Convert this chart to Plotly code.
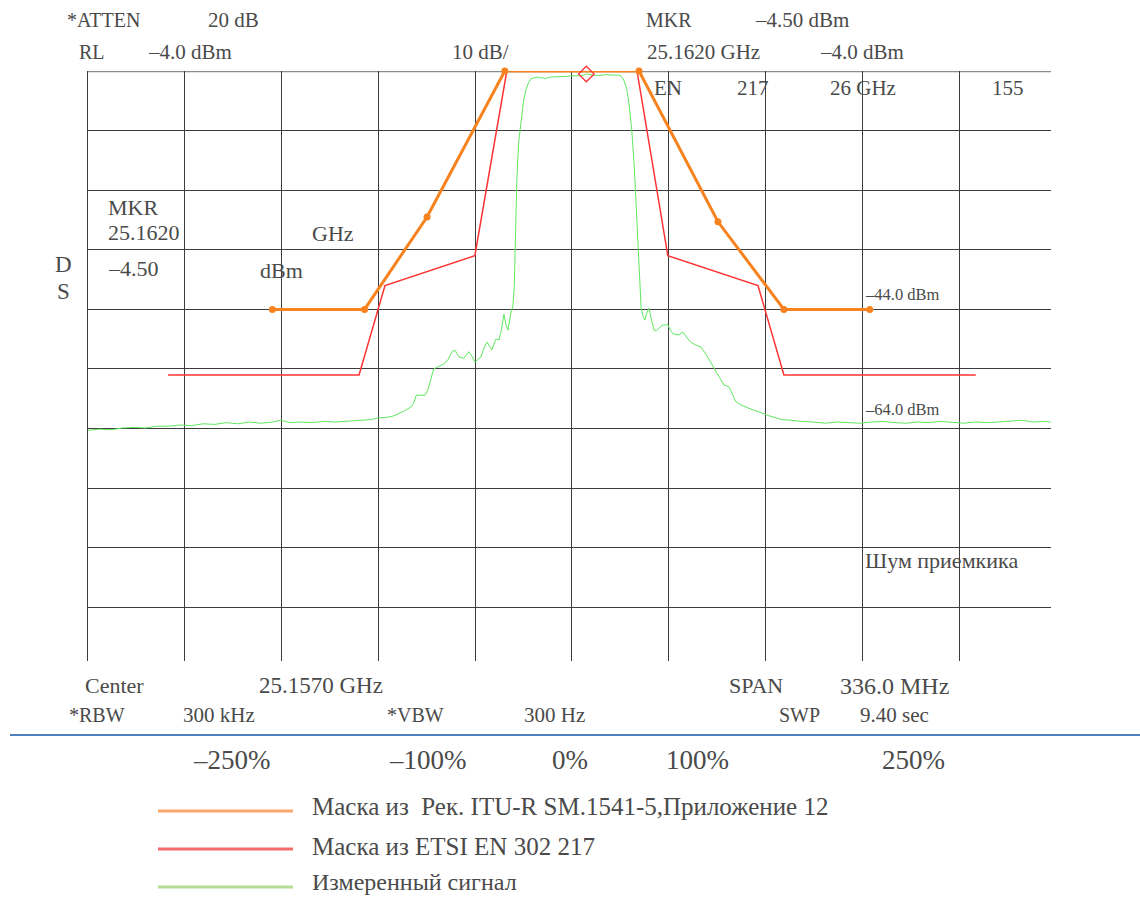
import plotly.graph_objects as go

# Spectrum analyser settings
CENTER_GHZ = 25.1570
SPAN_MHZ = 336.0
REF_LEVEL = -4.0          # dBm, top graticule line
DB_PER_DIV = 10.0
MKR_OFFSET_MHZ = 5.0      # 25.1620 GHz - centre
MKR_LEVEL = -4.50         # dBm

# ITU-R SM.1541-5 Annex 12 mask (offset from centre, MHz / dBm)
itu_offset = [-104.0, -72.0, -50.3, -23.3, 23.3, 50.7, 73.6, 103.4]
itu_level = [-44.0, -44.0, -28.5, -4.0, -4.0, -29.3, -44.0, -44.0]

# ETSI EN 302 217 mask
etsi_offset = [-140.2, -73.9, -64.9, -33.7, -22.6, 22.6, 33.3, 64.6, 73.6, 140.2]
etsi_level = [-55.0, -55.0, -40.0, -35.0, -4.0, -4.0, -35.0, -40.0, -55.0, -55.0]

# Measured trace
sig_offset = [
    -168, -164, -160, -156, -152, -148, -144, -140, -136, -132, -128, -124,
    -120, -116, -112, -108, -104, -101, -98, -94, -90, -86, -82, -78, -74,
    -70, -67, -64, -62, -60, -58, -56, -55, -54, -51, -50, -48, -46, -44.5,
    -43, -41.5, -40.5, -39.2, -37.5, -35.8, -34.5, -33.7, -32.7, -31.6,
    -30.5, -29.5, -28.5, -27.8, -26.8, -26.4, -25.3, -24.5, -23.6, -22.9,
    -22.2, -21.2, -20.5, -20.0, -19.6, -19.1, -18.5, -17.7, -16.8, -16.0,
    -15.0, -14.2, -13.0, -11.8, -11.0, -10.1, -9.2, -8.3, -7.0, -5.2, -3.5,
    -1.7, 0.0, 1.7, 3.5, 5.0, 7.0, 8.7, 10.4, 12.1, 14.2, 16.3, 17.2, 18.0,
    19.0, 19.8, 20.7, 21.5, 22.2, 22.9, 23.5, 24.0, 24.6, 25.3, 26.0, 26.7,
    27.5, 28.5, 29.3, 30.2, 31.0, 31.9, 33.3, 34.2, 35.1, 37.1, 38.5, 40.0,
    41.3, 43.0, 44.8, 46.5, 48.0, 49.3, 51.0, 52.8, 54.5, 55.8, 56.9, 58.5,
    60.4, 63.0, 65.6, 68.0, 70.8, 73.0, 76.0, 79.5, 84, 88, 92, 96, 100,
    104, 108, 112, 116, 120, 124, 128, 132, 136, 140, 144, 148, 152, 156,
    160, 164, 166.3,
]
sig_level = [
    -64.3, -64.1, -64.2, -63.9, -63.8, -63.9, -63.6, -63.6, -63.4, -63.5,
    -63.2, -63.3, -63.0, -63.2, -62.9, -63.1, -62.9, -62.6, -63.0, -62.9,
    -63.0, -62.8, -62.9, -62.8, -62.6, -62.5, -62.2, -62.1, -61.9, -61.5,
    -61.0, -60.4, -59.8, -58.4, -58.4, -57.5, -54.0, -53.5, -53.2, -52.4,
    -51.0, -50.9, -52.0, -52.2, -51.1, -52.0, -52.9, -52.4, -52.0, -50.5,
    -49.5, -50.2, -50.8, -49.5, -49.0, -49.1, -47.5, -44.8, -46.5, -47.5,
    -44.6, -43.5, -40.0, -32.0, -22.0, -16.0, -12.2, -9.0, -7.2, -5.9, -5.3,
    -5.1, -5.0, -5.2, -5.1, -5.3, -5.1, -5.0, -5.0, -4.9, -4.9, -4.8, -4.75,
    -4.8, -4.5, -4.7, -4.75, -4.7, -4.6, -4.7, -4.7, -4.9, -5.5, -7.0, -9.4,
    -13.5, -18.9, -25.5, -32.9, -39.0, -43.6, -45.0, -45.8, -44.6, -43.8,
    -45.5, -47.5, -47.6, -47.1, -46.8, -46.6, -46.6, -47.5, -48.1, -48.3,
    -47.8, -48.8, -49.5, -50.0, -50.3, -51.5, -52.8, -53.8, -55.2, -56.7,
    -57.0, -58.3, -59.5, -60.0, -60.4, -60.9, -61.3, -61.8, -62.2, -62.5,
    -62.6, -62.8, -62.9, -63.1, -62.9, -63.0, -63.1, -62.9, -62.8, -63.0,
    -63.1, -62.9, -63.0, -62.8, -63.0, -63.1, -62.9, -63.0, -62.9, -62.8,
    -62.6, -62.9, -62.8, -62.9,
]

# Offset labels under the screen
pct_labels = ["–250%", "–100%", "0%", "100%", "250%"]

ORANGE = "#f7821e"
RED = "#ff3333"
GREEN = "#5ee85e"
TEXT = "#4a4a4a"
FONT = "Liberation Serif"

# Graticule position on the page (pixels)
W, H = 1140, 897
L, R, T, B = 88, 1051, 71, 661
DIVS_SHOWN = 9.95          # graticule stops just short of the tenth division


def px(x):
    return (x - L) / (R - L)


def py(y):
    return (B - y) / (B - T)


fig = go.Figure()

fig.add_trace(go.Scatter(
    x=sig_offset, y=sig_level, mode="lines",
    line=dict(color=GREEN, width=1), hoverinfo="skip", showlegend=False,
))
fig.add_trace(go.Scatter(
    x=etsi_offset, y=etsi_level, mode="lines",
    line=dict(color=RED, width=1.5), hoverinfo="skip", showlegend=False,
    cliponaxis=False,
))
fig.add_trace(go.Scatter(
    x=itu_offset, y=itu_level, mode="lines+markers",
    line=dict(color=ORANGE, width=3), marker=dict(color=ORANGE, size=7),
    hoverinfo="skip", showlegend=False, cliponaxis=False,
))
fig.add_trace(go.Scatter(
    x=[MKR_OFFSET_MHZ], y=[MKR_LEVEL], mode="markers",
    marker=dict(symbol="diamond-open", color=RED, size=12, line=dict(width=1.3)),
    hoverinfo="skip", showlegend=False, cliponaxis=False,
))

div = SPAN_MHZ / 10
x_left = -SPAN_MHZ / 2

fig.update_xaxes(
    range=[x_left, x_left + DIVS_SHOWN * div],
    tick0=x_left, dtick=div, showgrid=True, gridcolor="#3c3c3c", gridwidth=1,
    showticklabels=False, zeroline=False, showline=False, ticks="",
)
fig.update_yaxes(
    range=[REF_LEVEL - 99, REF_LEVEL], tick0=REF_LEVEL, dtick=DB_PER_DIV,
    showgrid=True, gridcolor="#3c3c3c", gridwidth=1, showticklabels=False,
    zeroline=False, showline=True, linecolor="#3c3c3c", linewidth=1, ticks="",
)

shapes = [
    # top graticule line (reference level)
    dict(type="line", xref="paper", yref="y", x0=0, x1=1, y0=REF_LEVEL, y1=REF_LEVEL,
         line=dict(color="#8c8c8c", width=2.5), layer="below"),
    # separator
    dict(type="line", xref="paper", yref="paper", x0=px(10), x1=px(1140),
         y0=py(735), y1=py(735), line=dict(color="#4f81bd", width=2.2)),
    # legend swatches
    dict(type="line", xref="paper", yref="paper", x0=px(158), x1=px(293),
         y0=py(811), y1=py(811), line=dict(color="#f9a86a", width=3)),
    dict(type="line", xref="paper", yref="paper", x0=px(158), x1=px(293),
         y0=py(849), y1=py(849), line=dict(color="#f56a6a", width=3)),
    dict(type="line", xref="paper", yref="paper", x0=px(158), x1=px(293),
         y0=py(887), y1=py(887), line=dict(color="#b6dc96", width=3)),
]

ann = []


def label(text, x, y, size=21, anchor="left"):
    ann.append(dict(text=text, x=px(x), y=py(y), xref="paper", yref="paper",
                    xanchor=anchor, yanchor="middle", showarrow=False,
                    font=dict(family=FONT, size=size, color=TEXT)))


# header
label("*ATTEN", 65, 20, size=20)
label("20 dB", 206, 20)
label("MKR", 644, 20, size=20)
label("–4.50 dBm", 753, 20)
label("RL", 77, 52, size=20)
label("–4.0 dBm", 146, 52)
label("10 dB/", 450, 52)
label("25.1620 GHz", 645, 52)
label("–4.0 dBm", 818, 52)
label("EN", 652, 88)
label("217", 735, 88)
label("26 GHz", 828, 88)
label("155", 990, 88)

# marker readout inside graticule
label("MKR", 106, 207, size=22)
label("25.1620", 106, 232, size=22)
label("GHz", 310, 233, size=22)
label("–4.50", 106, 268, size=22)
label("dBm", 258, 270, size=22)
label("D", 63, 264, size=23, anchor="center")
label("S", 63, 291, size=23, anchor="center")

label("–44.0 dBm", 863, 294, size=16.5)
label("–64.0 dBm", 863, 410, size=16.5)
label("Шум приемкика", 863, 560, size=22)

# footer
label("Center", 83, 686, size=22)
label("25.1570 GHz", 257, 686, size=23)
label("SPAN", 727, 686, size=22)
label("336.0 MHz", 838, 686, size=24)
label("*RBW", 67, 715, size=20)
label("300 kHz", 181, 715, size=21)
label("*VBW", 385, 715, size=20)
label("300 Hz", 522, 715, size=21)
label("SWP", 777, 715, size=20)
label("9.40 sec", 858, 715, size=21)

# offset labels
for t, xc in zip(pct_labels, [232, 428, 570, 697, 913]):
    label(t, xc, 760, size=27, anchor="center")

# legend text
label("Маска из  Рек. ITU-R SM.1541-5,Приложение 12", 310, 806, size=25)
label("Маска из ETSI EN 302 217", 310, 846, size=25)
label("Измеренный сигнал", 310, 882, size=24)

fig.update_layout(
    width=W, height=H,
    margin=dict(l=L, r=W - R, t=T, b=H - B, pad=0),
    paper_bgcolor="white", plot_bgcolor="white",
    shapes=shapes, annotations=ann, showlegend=False,
)

fig.write_html("out.html")
